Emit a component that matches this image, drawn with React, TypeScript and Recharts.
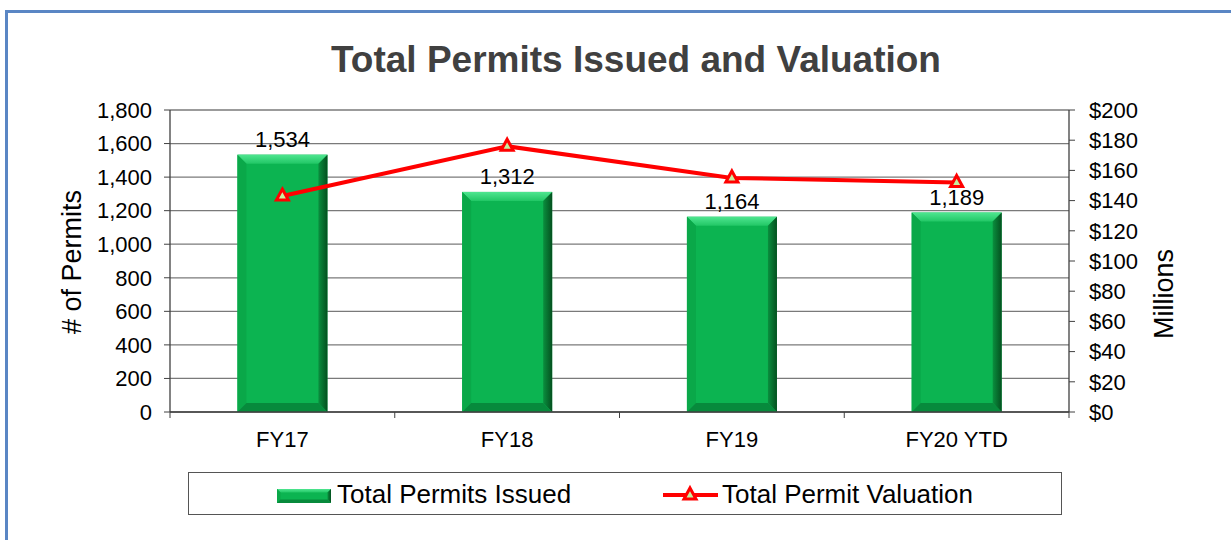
import React from 'react';
import {
  Bar,
  CartesianGrid,
  ComposedChart,
  LabelList,
  Legend,
  Line,
  XAxis,
  YAxis,
} from 'recharts';

const years = ['FY17', 'FY18', 'FY19', 'FY20 YTD'];
const permits = [1534, 1312, 1164, 1189];
// valuation in millions of dollars
const valuation = [143, 176, 155, 152];
const permitTicks = [0, 200, 400, 600, 800, 1000, 1200, 1400, 1600, 1800];
const valuationTicks = [0, 20, 40, 60, 80, 100, 120, 140, 160, 180, 200];

const data = years.map((year, i) => ({
  year,
  permits: permits[i],
  valuation: valuation[i],
}));

const FONT = '"Liberation Sans", Arial, sans-serif';
const tickStyle = { fontSize: 22, fill: '#000', fontFamily: FONT };

// bar drawn with a bevelled edge like the office chart
const BevelBar = (props: any) => {
  const { x, y, width, height } = props;
  if (!height || height <= 0) return null;
  const b = Math.min(9, width / 4, height / 4);
  const x2 = x + width;
  const y2 = y + height;
  return (
    <g>
      <rect x={x} y={y} width={width} height={height} fill="#0cb451" />
      <polygon
        points={`${x},${y} ${x2},${y} ${x2 - b},${y + b} ${x + b},${y + b}`}
        fill="url(#bevelTop)"
      />
      <polygon
        points={`${x},${y} ${x + b},${y + b} ${x + b},${y2 - b} ${x},${y2}`}
        fill="#0aa849"
      />
      <polygon
        points={`${x2},${y} ${x2},${y2} ${x2 - b},${y2 - b} ${x2 - b},${y + b}`}
        fill="url(#bevelRight)"
      />
      <polygon
        points={`${x},${y2} ${x + b},${y2 - b} ${x2 - b},${y2 - b} ${x2},${y2}`}
        fill="#078a3c"
      />
    </g>
  );
};

const Triangle = (props: any) => {
  const { cx, cy } = props;
  if (cx == null || cy == null) return null;
  return (
    <polygon
      points={`${cx},${cy - 7} ${cx + 6},${cy + 4} ${cx - 6},${cy + 4}`}
      fill="#c6f0a0"
      stroke="#ff0000"
      strokeWidth={3}
      strokeLinejoin="miter"
    />
  );
};

// category labels, with tick marks on the category edges
const EdgeTick = (props: any) => {
  const { x, y, payload, index } = props;
  const half = payload.offset || 0;
  const axisY = y - 19;
  return (
    <g>
      <line x1={x - half} y1={axisY} x2={x - half} y2={axisY + 6} stroke="#404040" />
      {index === years.length - 1 && (
        <line x1={x + half} y1={axisY} x2={x + half} y2={axisY + 6} stroke="#404040" />
      )}
      <text x={x} y={y} dy="0.71em" textAnchor="middle" style={tickStyle}>
        {payload.value}
      </text>
    </g>
  );
};

const LegendBox = () => (
  <div style={{ height: 64, paddingTop: 20, boxSizing: 'border-box', position: 'relative' }}>
    <div
      style={{
        position: 'absolute',
        left: 188,
        top: 20,
        width: 874,
        height: 43,
        border: '1.5px solid #555',
        boxSizing: 'border-box',
        fontFamily: FONT,
        fontSize: 26,
        color: '#000',
      }}
    >
      <svg width={60} height={20} style={{ position: 'absolute', left: 86, top: 14 }}>
        <BevelBar x={2} y={2} width={54} height={14} />
      </svg>
      <span style={{ position: 'absolute', left: 148, top: 6, whiteSpace: 'nowrap' }}>
        Total Permits Issued
      </span>
      <svg width={60} height={24} style={{ position: 'absolute', left: 472, top: 10 }}>
        <line x1={2} y1={12} x2={57} y2={12} stroke="#ff0000" strokeWidth={4} />
        <Triangle cx={29} cy={12} />
      </svg>
      <span style={{ position: 'absolute', left: 533, top: 6, whiteSpace: 'nowrap' }}>
        Total Permit Valuation
      </span>
    </div>
  </div>
);

export default function App() {
  return (
    <div
      style={{
        position: 'absolute',
        left: 0,
        top: 0,
        width: 1231,
        height: 540,
        overflow: 'hidden',
        background: '#fff',
        fontFamily: FONT,
      }}
    >
      <div
        style={{
          position: 'absolute',
          left: 5,
          top: 10,
          width: 1400,
          height: 700,
          border: '3px solid #5a86c4',
        }}
      />
      <div
        style={{
          position: 'absolute',
          left: 0,
          top: 42,
          width: 1272,
          textAlign: 'center',
          fontSize: 37,
          lineHeight: '36px',
          fontWeight: 'bold',
          color: '#404040',
        }}
      >
        Total Permits Issued and Valuation
      </div>
      <div style={{ position: 'absolute', left: 0, top: 0 }}>
        <ComposedChart
          width={1231}
          height={540}
          data={data}
          barCategoryGap="30%"
          margin={{ top: 110, right: 82, left: 90, bottom: 24 }}
        >
          <defs>
            <linearGradient id="bevelTop" x1="0" y1="0" x2="0" y2="1">
              <stop offset="0%" stopColor="#4fe690" />
              <stop offset="100%" stopColor="#22c766" />
            </linearGradient>
            <linearGradient id="bevelRight" x1="0" y1="0" x2="1" y2="0">
              <stop offset="0%" stopColor="#0a8f3e" />
              <stop offset="100%" stopColor="#04501f" />
            </linearGradient>
          </defs>
          <CartesianGrid
            yAxisId="left"
            vertical={false}
            stroke="#7a7a7a"
            strokeWidth={1.3}
          />
          <XAxis
            dataKey="year"
            height={40}
            tickLine={false}
            tickSize={6}
            tickMargin={13}
            axisLine={{ stroke: '#404040', strokeWidth: 1.3 }}
            tick={<EdgeTick />}
            interval={0}
          />
          <YAxis
            yAxisId="left"
            width={80}
            domain={[0, 1800]}
            ticks={permitTicks}
            interval={0}
            tickSize={6}
            tickMargin={12}
            tick={tickStyle}
            tickLine={{ stroke: '#404040' }}
            axisLine={{ stroke: '#404040', strokeWidth: 1.3 }}
            tickFormatter={(v: number) => v.toLocaleString('en-US')}
            label={{
              content: ({ viewBox }: any) => (
                <text
                  transform={`translate(${viewBox.x - 9}, ${viewBox.y + viewBox.height / 2 + 1}) rotate(-90)`}
                  textAnchor="middle"
                  style={{ fontSize: 27, fill: '#000', fontFamily: FONT }}
                >
                  # of Permits
                </text>
              ),
            }}
          />
          <YAxis
            yAxisId="right"
            orientation="right"
            width={80}
            domain={[0, 200]}
            ticks={valuationTicks}
            interval={0}
            tickSize={6}
            tickMargin={14}
            tick={{ ...tickStyle, textAnchor: 'start' }}
            tickLine={{ stroke: '#404040' }}
            axisLine={{ stroke: '#404040', strokeWidth: 1.3 }}
            tickFormatter={(v: number) => `$${v}`}
            label={{
              content: ({ viewBox }: any) => (
                <text
                  transform={`translate(${viewBox.x + 104}, ${viewBox.y + viewBox.height / 2 + 33}) rotate(-90)`}
                  textAnchor="middle"
                  style={{ fontSize: 27, fill: '#000', fontFamily: FONT }}
                >
                  Millions
                </text>
              ),
            }}
          />
          <Legend verticalAlign="bottom" content={<LegendBox />} wrapperStyle={{ left: 0, width: 1231 }} />
          <Bar
            yAxisId="left"
            dataKey="permits"
            name="Total Permits Issued"
            shape={<BevelBar />}
            isAnimationActive={false}
          >
            <LabelList
              dataKey="permits"
              position="top"
              offset={8}
              formatter={(v: any) => Number(v).toLocaleString('en-US')}
              style={{ fontSize: 22, fill: '#000', fontFamily: FONT }}
            />
          </Bar>
          <Line
            yAxisId="right"
            dataKey="valuation"
            name="Total Permit Valuation"
            type="linear"
            stroke="#ff0000"
            strokeWidth={4}
            dot={<Triangle />}
            activeDot={false}
            isAnimationActive={false}
          />
        </ComposedChart>
      </div>
    </div>
  );
}
